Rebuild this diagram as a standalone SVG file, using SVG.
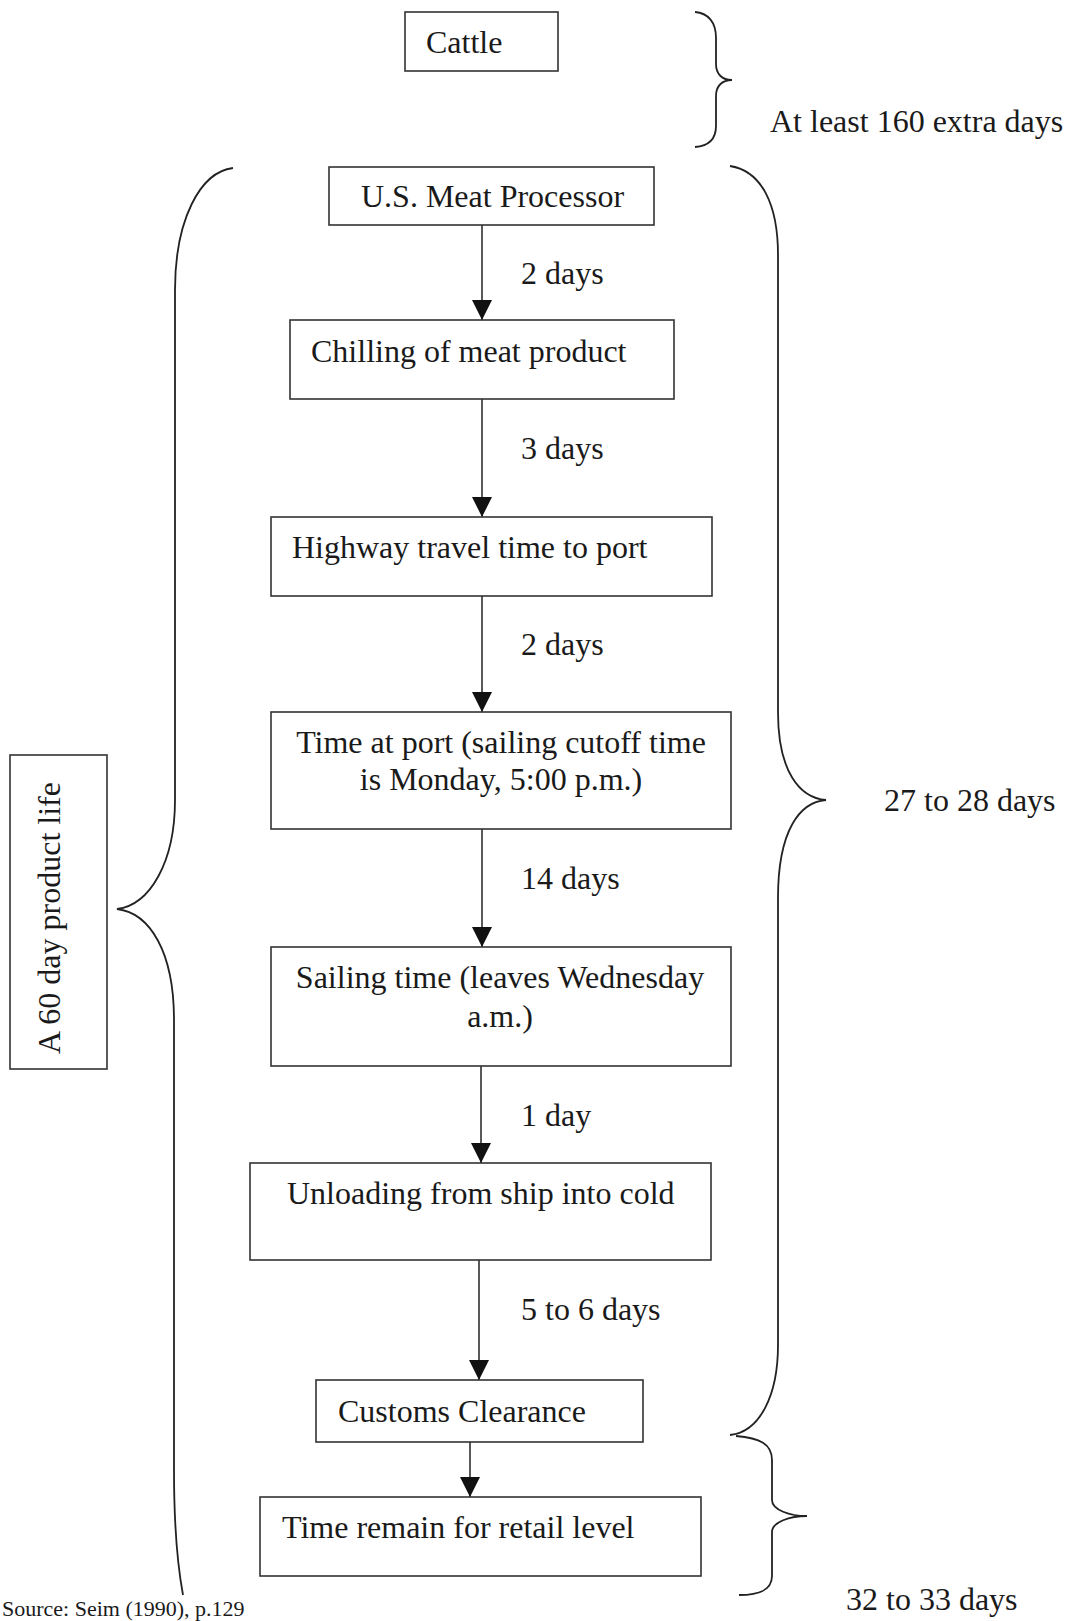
<svg xmlns="http://www.w3.org/2000/svg" width="1068" height="1621" viewBox="0 0 1068 1621">
<style>
  .box { fill: #fff; stroke: #333; stroke-width: 1.6; }
  .t { font-family: "Liberation Serif", "Times New Roman", serif; font-size: 32px; fill: #1a1a1a; }
  .c { text-anchor: middle; }
  .edge { stroke: #222; stroke-width: 1.5; fill: none; }
  .brace { stroke: #222; stroke-width: 1.8; fill: none; }
</style>
<defs>
  <marker id="arr" markerUnits="userSpaceOnUse" markerWidth="20" markerHeight="20" refX="20" refY="10" orient="auto">
    <path d="M0,0 L20,10 L0,20 z" fill="#111"/>
  </marker>
</defs>
<rect width="1068" height="1621" fill="#fff"/>

<g id="connectors">
  <line class="edge" x1="482" y1="225" x2="482" y2="320" marker-end="url(#arr)"/>
  <line class="edge" x1="482" y1="399" x2="482" y2="517" marker-end="url(#arr)"/>
  <line class="edge" x1="482" y1="596" x2="482" y2="712" marker-end="url(#arr)"/>
  <line class="edge" x1="482" y1="829" x2="482" y2="947" marker-end="url(#arr)"/>
  <line class="edge" x1="481" y1="1066" x2="481" y2="1163" marker-end="url(#arr)"/>
  <line class="edge" x1="479" y1="1260" x2="479" y2="1380" marker-end="url(#arr)"/>
  <line class="edge" x1="470" y1="1442" x2="470" y2="1497" marker-end="url(#arr)"/>
  <text class="t" x="521" y="284">2 days</text>
  <text class="t" x="521" y="459">3 days</text>
  <text class="t" x="521" y="655">2 days</text>
  <text class="t" x="521" y="889">14 days</text>
  <text class="t" x="521" y="1126">1 day</text>
  <text class="t" x="521" y="1320">5 to 6 days</text>
</g>

<g id="cattle">
  <rect class="box" x="405" y="12" width="153" height="59"/>
  <text class="t" x="426" y="53">Cattle</text>
</g>
<g id="processor">
  <rect class="box" x="329" y="167" width="325" height="58"/>
  <text class="t" x="361" y="207">U.S. Meat Processor</text>
</g>
<g id="chilling">
  <rect class="box" x="290" y="320" width="384" height="79"/>
  <text class="t" x="311" y="362">Chilling of meat product</text>
</g>
<g id="highway">
  <rect class="box" x="271" y="517" width="441" height="79"/>
  <text class="t" x="292" y="558">Highway travel time to port</text>
</g>
<g id="port">
  <rect class="box" x="271" y="712" width="460" height="117"/>
  <text class="t c" x="501" y="753">Time at port (sailing cutoff time</text>
  <text class="t c" x="501" y="790">is Monday, 5:00 p.m.)</text>
</g>
<g id="sailing">
  <rect class="box" x="271" y="947" width="460" height="119"/>
  <text class="t c" x="500" y="988">Sailing time (leaves Wednesday</text>
  <text class="t c" x="500" y="1027">a.m.)</text>
</g>
<g id="unloading">
  <rect class="box" x="250" y="1163" width="461" height="97"/>
  <text class="t" x="287" y="1204">Unloading from ship into cold</text>
</g>
<g id="customs">
  <rect class="box" x="316" y="1380" width="327" height="62"/>
  <text class="t" x="338" y="1422">Customs Clearance</text>
</g>
<g id="retail">
  <rect class="box" x="260" y="1497" width="441" height="79"/>
  <text class="t" x="282" y="1538">Time remain for retail level</text>
</g>

<g id="life">
  <rect class="box" x="10" y="755" width="97" height="314"/>
  <text class="t c" transform="translate(60,918) rotate(-90)">A 60 day product life</text>
</g>

<g id="braces">
  <path class="brace" d="M695,12 C708,13 716,22 716,38 L716,64 C716,74 722,80 732,80 C722,80 716,86 716,96 L716,126 C716,140 708,146 695,147"/>
  <path class="brace" d="M233,168 C200,172 175,220 175,290 L175,800 C175,862 150,905 117,909 C150,913 174,952 174,1020 L174,1470 C174,1530 178,1568 183,1595"/>
  <path class="brace" d="M730,166 C762,171 778,205 778,255 L778,712 C778,772 800,798 826,800 C800,802 778,830 778,898 L778,1345 C778,1395 760,1432 730,1435"/>
  <path class="brace" d="M736,1436 C760,1438 772,1444 772,1460 L772,1500 C772,1510 790,1516 807,1516 C790,1516 772,1522 772,1532 L772,1576 C772,1590 760,1595 739,1595"/>
</g>

<g id="labels">
  <text class="t" x="770" y="132">At least 160 extra days</text>
  <text class="t" x="884" y="811">27 to 28 days</text>
  <text class="t" x="846" y="1610">32 to 33 days</text>
  <text class="t" x="2" y="1616" style="font-size:22px">Source: Seim (1990), p.129</text>
</g>
</svg>
